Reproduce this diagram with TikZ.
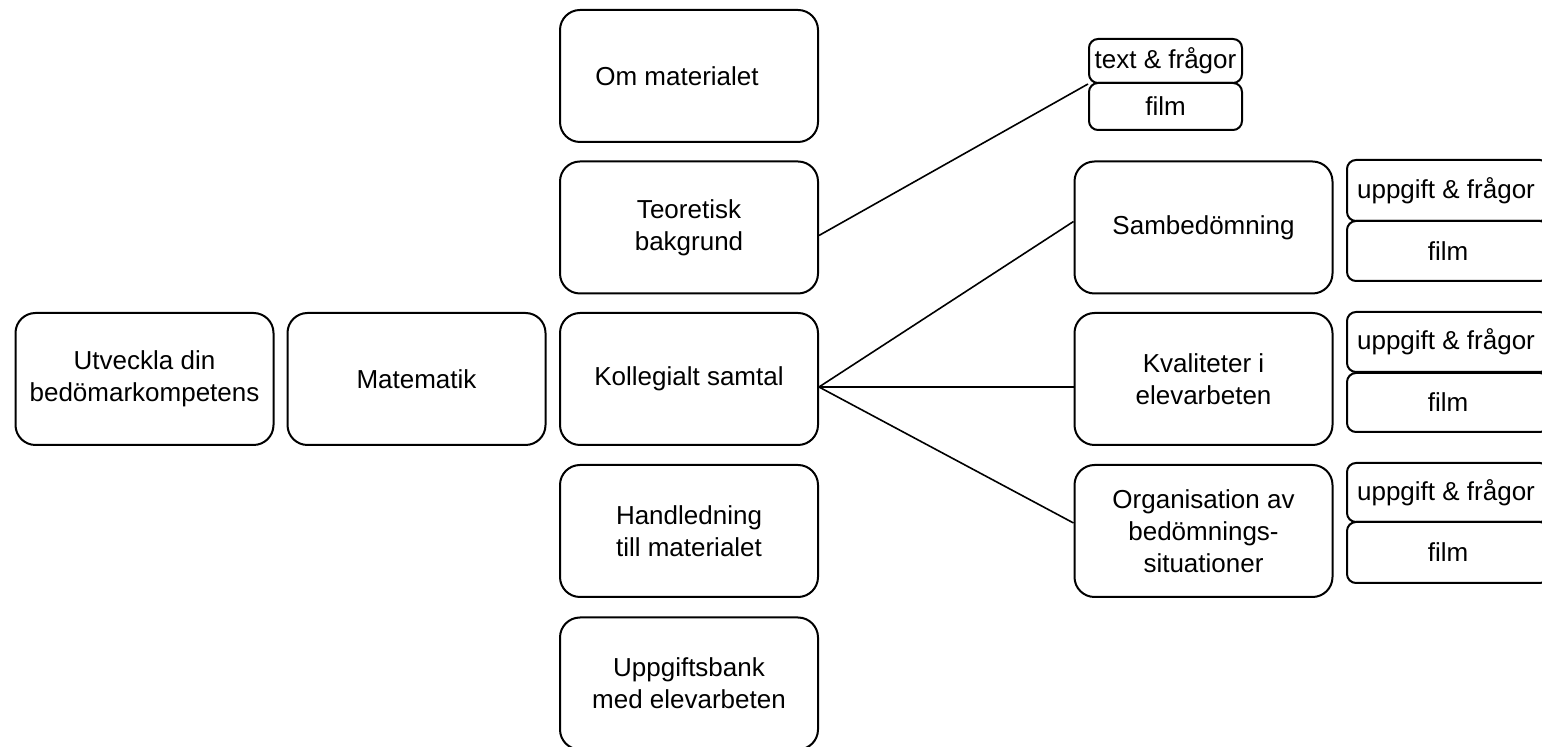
\documentclass[tikz,border=0pt]{standalone}
\usepackage{fontspec}
\setmainfont{Liberation Sans}
\usetikzlibrary{calc}
\begin{document}
\begin{tikzpicture}[x=0.5pt,y=-0.5pt,
  bigbox/.style={draw,line width=1pt,rounded corners=10pt,minimum width=129pt,minimum height=66pt,align=center,inner sep=1pt,font=\fontsize{13}{16}\selectfont},
  smallbox/.style={draw,line width=1pt,rounded corners=4.5pt,align=center,inner sep=1pt,font=\fontsize{13}{16}\selectfont},
  link/.style={line width=0.8pt}]
\useasboundingbox (0,0) rectangle (1542,747);
\node[bigbox] (utv) at (144.5,379) {Utveckla din\\bedömarkompetens};
\node[bigbox] (mat) at (416.5,379) {Matematik};
\node[bigbox] (om) at (689,76) {\hspace*{-12pt}Om materialet};
\node[bigbox] (teo) at (689,227.5) {Teoretisk\\bakgrund};
\node[bigbox] (kol) at (689,379) {Kollegialt samtal};
\node[bigbox] (han) at (689,531) {Handledning\\till materialet};
\node[bigbox] (upp) at (689,683.5) {Uppgiftsbank\\med elevarbeten};
\node[bigbox] (sam) at (1203.5,227.5) {Sambedömning};
\node[bigbox] (kva) at (1203.5,379) {Kvaliteter i\\elevarbeten};
\node[bigbox] (org) at (1203.5,531) {Organisation av\\bedömnings-\\situationer};
% small boxes
\node[smallbox,minimum width=76.5pt,minimum height=22pt] (tf) at (1165.5,61) {text \& frågor};
\node[smallbox,minimum width=76.5pt,minimum height=23.5pt] (tfilm) at (1165.5,106.5) {film};
\node[smallbox,minimum width=101pt,minimum height=30.5pt] (u1) at (1448,190.5) {\hspace*{-2pt}uppgift \& frågor};
\node[smallbox,minimum width=101pt,minimum height=30pt] (f1) at (1448,251) {film};
\node[smallbox,minimum width=101pt,minimum height=30pt] (u2) at (1448,342) {\hspace*{-2pt}uppgift \& frågor};
\node[smallbox,minimum width=101pt,minimum height=29.5pt] (f2) at (1448,402.5) {film};
\node[smallbox,minimum width=101pt,minimum height=29.5pt] (u3) at (1448,492.5) {\hspace*{-2pt}uppgift \& frågor};
\node[smallbox,minimum width=101pt,minimum height=30.5pt] (f3) at (1448,552.5) {film};
% connectors
\draw[link] ($(teo.east)+(0,8)$) -- (tf.south west);
\draw[link] ($(kol.east)+(0,8)$) -- ($(sam.west)+(0,-6)$);
\draw[link] ($(kol.east)+(0,8)$) -- ($(kva.west)+(0,8)$);
\draw[link] ($(kol.east)+(0,8)$) -- ($(org.west)+(0,-8)$);
\end{tikzpicture}
\end{document}
